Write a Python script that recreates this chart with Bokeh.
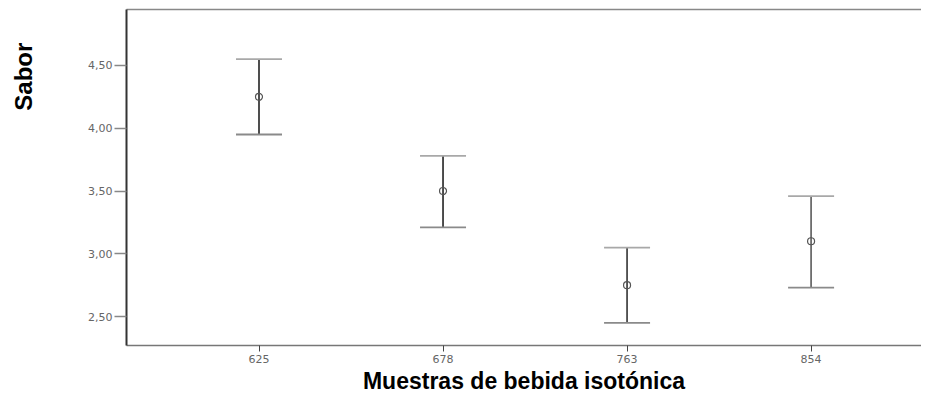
from bokeh.plotting import figure
from bokeh.models import ColumnDataSource, FixedTicker, LinearAxis, Range1d
from bokeh.layouts import row
from bokeh.core.properties import value
from bokeh.embed import file_html
from bokeh.resources import INLINE
import math

# Data
samples = ["625", "678", "763", "854"]
positions = [1, 2, 3, 4]
means = [4.25, 3.50, 2.75, 3.10]
upper = [4.55, 3.78, 3.05, 3.46]
lower = [3.95, 3.21, 2.45, 2.73]
stem_colors = ["#222222", "#222222", "#333333", "#5a5a5a"]
y_ticks = [2.5, 3.0, 3.5, 4.0, 4.5]
y_tick_labels = {2.5: "2,50", 3.0: "3,00", 3.5: "3,50", 4.0: "4,00", 4.5: "4,50"}
y_title = "Sabor"
x_title = "Muestras de bebida isotónica"

src = ColumnDataSource(dict(x=positions, mean=means, up=upper, lo=lower, c=stem_colors))
yr = Range1d(2.27, 4.945)

LEFT_W = 45
BOTTOM = 51

p = figure(width=921 - LEFT_W, height=396, output_backend="svg", toolbar_location=None,
           x_range=Range1d(0.28, 4.60), y_range=yr,
           min_border_left=126 - LEFT_W, min_border_right=0, min_border_top=9,
           min_border_bottom=BOTTOM)
p.outline_line_color = None
p.xgrid.grid_line_color = None
p.ygrid.grid_line_color = None

# x axis
xa = p.xaxis[0]
xa.ticker = FixedTicker(ticks=positions)
xa.major_label_overrides = {pos: lab for pos, lab in zip(positions, samples)}
xa.minor_tick_line_color = None
xa.major_tick_out = 6
xa.major_tick_in = 0
xa.major_tick_line_color = "#444444"
xa.axis_line_color = "#777777"
xa.axis_line_width = 1.5
xa.major_label_text_font = "DejaVu Sans"
xa.major_label_text_font_size = "11px"
xa.major_label_text_color = "#666666"
xa.major_label_standoff = 3
xa.axis_label = x_title
xa.axis_label_text_font = "Liberation Sans"
xa.axis_label_text_font_style = "bold"
xa.axis_label_text_font_size = "23px"
xa.axis_label_text_color = "#000000"
xa.axis_label_standoff = 2

# y axis
ya = p.yaxis[0]
ya.ticker = FixedTicker(ticks=y_ticks)
ya.major_label_overrides = y_tick_labels
ya.minor_tick_line_color = None
ya.major_tick_out = 12
ya.major_tick_in = 0
ya.major_tick_line_color = "#888888"
ya.major_tick_line_width = 1.5
ya.axis_line_color = "#333333"
ya.axis_line_width = 2
ya.major_label_text_font = "DejaVu Sans"
ya.major_label_text_font_size = "11px"
ya.major_label_text_color = "#666666"
ya.major_label_standoff = 2

# top border line
top = LinearAxis(ticker=FixedTicker(ticks=[]), axis_line_color="#888888", axis_line_width=1.5,
                 major_tick_out=0, major_tick_in=0, minor_tick_out=0, minor_tick_in=0,
                 major_label_standoff=0, major_label_text_font_size="0px")
p.add_layout(top, "above")

# error bars
p.segment(x0="x", y0="lo", x1="x", y1="up", source=src, line_color="c", line_width=1.6)
p.scatter(x="x", y="up", source=src, marker="dash", size=46, line_color="#a8a8a8", line_width=1.8)
p.scatter(x="x", y="lo", source=src, marker="dash", size=46, line_color="#8a8a8a", line_width=1.8)
p.scatter(x="x", y="mean", source=src, marker="circle", size=7, fill_color=None,
          line_color="#555555", line_width=1.2)

# narrow side panel carrying the y title near the top, as in the reference
side = figure(width=LEFT_W, height=396, output_backend="svg", toolbar_location=None,
              x_range=Range1d(0, LEFT_W), y_range=yr,
              min_border_left=0, min_border_right=0, min_border_top=9, min_border_bottom=BOTTOM)
side.axis.visible = False
side.grid.grid_line_color = None
side.outline_line_color = None
side.text(x=[LEFT_W / 2], y=[4.41], text=[y_title], angle=math.pi / 2,
          text_align="center", text_baseline="middle", text_font=value("Liberation Sans"),
          text_font_style="bold", text_font_size="24px", text_color="#000000")

layout = row(side, p, spacing=0)
open("out.html", "w").write(file_html(layout, INLINE))
